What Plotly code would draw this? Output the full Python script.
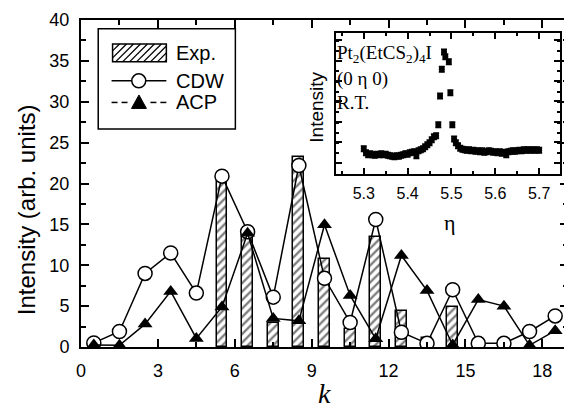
import plotly.graph_objects as go

# ---- main data ----
k_pts = [0.5, 1.5, 2.5, 3.5, 4.5, 5.5, 6.5, 7.5, 8.5, 9.5, 10.5, 11.5, 12.5, 13.5, 14.5, 15.5, 16.5, 17.5, 18.5]
cdw = [0.5, 1.9, 9.0, 11.5, 6.6, 20.9, 14.1, 6.1, 22.2, 8.4, 3.0, 15.6, 1.8, 0.45, 7.0, 0.45, 0.45, 1.9, 3.8]
acp = [0.25, 0.2, 2.8, 6.8, 1.05, 4.9, 13.9, 3.5, 3.2, 14.95, 6.3, 1.0, 11.2, 6.9, 0.25, 5.8, 5.0, 0.2, 2.0]
exp_k = [5.5, 6.5, 7.5, 8.5, 9.5, 10.5, 11.5, 12.5, 13.5, 14.5]
exp_v = [20.4, 13.7, 2.9, 23.2, 10.8, 2.2, 13.5, 4.4, 1.1, 4.85]
legend_labels = ["Exp.", "CDW", "ACP"]

# ---- inset data ----
eta = [5.300, 5.305, 5.310, 5.315, 5.320, 5.325, 5.330, 5.335, 5.340, 5.345,
       5.350, 5.355, 5.360, 5.365, 5.370, 5.375, 5.380, 5.385, 5.390, 5.395,
       5.400, 5.405, 5.410, 5.415, 5.420, 5.425, 5.430, 5.435, 5.440, 5.445,
       5.450, 5.455, 5.460, 5.465, 5.470, 5.474, 5.478, 5.483, 5.486, 5.494,
       5.4975, 5.502, 5.506, 5.510, 5.515, 5.520, 5.525, 5.530, 5.535, 5.540,
       5.545, 5.550, 5.555, 5.560, 5.565, 5.570, 5.575, 5.580, 5.585, 5.590,
       5.595, 5.600, 5.605, 5.610, 5.615, 5.620, 5.625, 5.630, 5.635, 5.640,
       5.645, 5.650, 5.655, 5.660, 5.665, 5.670, 5.675, 5.680, 5.685, 5.690,
       5.695, 5.700]
inten = [25, 21, 19, 20, 19, 18.5, 19.5, 19, 20, 19,
         19.5, 18.5, 18, 17.5, 17, 18, 17.5, 18.5, 19, 20,
         19.5, 21, 21.5, 22, 18, 23, 24, 25, 27, 29,
         31, 34, 37, 38, 49, 78, 104.7, 122, 117.3, 112.3,
         81.3, 49, 34.7, 31, 28, 25.5, 24.5, 24, 23.5, 24,
         23, 23.5, 22.5, 23, 22, 23, 21.5, 22, 23, 22.5,
         21.5, 22, 21, 22, 20.5, 21.5, 19, 22, 22.5, 23,
         22.5, 23, 23.5, 23, 24, 23.5, 24, 23.5, 24, 23.5,
         24, 23.5]
inten_err = [2.5] * len(inten)

FONT = "Liberation Sans"
SERIF = "Liberation Serif"

# figure sized to fit inside the page's default 8px body margin
OFF = 8
W, H = 564, 408
ML, MR, MT, MB = 73, 2, 11, 69
PW, PH = W - ML - MR, H - MT - MB


def px(x):
    # screen-pixel x -> paper fraction
    return (x - OFF - ML) / PW


def py(y):
    # screen-pixel y -> paper fraction
    return (H - MB - (y - OFF)) / PH


fig = go.Figure()

fig.add_trace(go.Bar(
    x=exp_k, y=exp_v, width=0.42, name=legend_labels[0], showlegend=False,
    marker=dict(color="white", line=dict(color="black", width=1.5),
                pattern=dict(shape="/", fgcolor="black", bgcolor="white", size=6, solidity=0.4)),
))
fig.add_trace(go.Scatter(
    x=k_pts, y=cdw, mode="lines+markers", name=legend_labels[1], showlegend=False,
    line=dict(color="black", width=1.5),
    marker=dict(symbol="circle", size=14, color="white", line=dict(color="black", width=1.5)),
))
fig.add_trace(go.Scatter(
    x=k_pts, y=acp, mode="lines+markers", name=legend_labels[2], showlegend=False,
    line=dict(color="black", width=1.5),
    marker=dict(symbol="triangle-up", size=13, color="black"),
))

# inset
fig.add_trace(go.Scatter(
    x=eta, y=inten, mode="markers", showlegend=False, xaxis="x2", yaxis="y2",
    marker=dict(symbol="circle", size=6, color="black"),
    error_y=dict(type="data", array=inten_err, thickness=2, width=3, color="black"),
))

# ---- hand-drawn legend (paper coordinates) ----
shapes = []
lw = dict(color="black", width=1.5)
shapes.append(dict(type="rect", xref="paper", yref="paper", x0=px(98.3), x1=px(236), y0=py(128.3), y1=py(27.7),
                   line=dict(color="black", width=1.5), fillcolor="white", layer="above"))
rx0, rx1, ry0, ry1 = 112.7, 166.7, 43, 61
shapes.append(dict(type="rect", xref="paper", yref="paper", x0=px(rx0), x1=px(rx1), y0=py(ry1), y1=py(ry0),
                   line=dict(color="black", width=1.5), fillcolor="white", layer="above"))
hh = ry1 - ry0
step = 7.0
start = rx0 - hh
while start < rx1:
    xa, ya, xb, yb = start, ry1, start + hh, ry0
    if xa < rx0:
        ya = ry1 - (rx0 - xa)
        xa = rx0
    if xb > rx1:
        yb = ry0 + (xb - rx1)
        xb = rx1
    if xb > xa:
        shapes.append(dict(type="line", xref="paper", yref="paper", x0=px(xa), y0=py(ya), x1=px(xb), y1=py(yb),
                           line=dict(color="black", width=1.3), layer="above"))
    start += step
shapes.append(dict(type="line", xref="paper", yref="paper", x0=px(111.7), x1=px(166.7), y0=py(80), y1=py(80),
                   line=lw, layer="above"))
shapes.append(dict(type="circle", xref="paper", yref="paper", x0=px(132), x1=px(146), y0=py(87), y1=py(73),
                   line=lw, fillcolor="white", layer="above"))
for xa, xb in [(111.7, 117.7), (121.7, 127.7), (150.7, 156.7), (160.7, 166.7)]:
    shapes.append(dict(type="line", xref="paper", yref="paper", x0=px(xa), x1=px(xb), y0=py(101.7), y1=py(101.7),
                       line=lw, layer="above"))
tx, ty = 139.2, 101.7
shapes.append(dict(type="path", xref="paper", yref="paper",
                   path=f"M {px(tx - 7.5)} {py(ty + 6)} L {px(tx + 7.5)} {py(ty + 6)} L {px(tx)} {py(ty - 7.5)} Z",
                   line=dict(color="black", width=1), fillcolor="black", layer="above"))

legend_ann = []
for lab, yy in zip(legend_labels, [51.7, 80, 101.7]):
    legend_ann.append(dict(text=lab, x=px(174), y=py(yy), xref="paper", yref="paper", showarrow=False,
                           font=dict(size=20, family=FONT), xanchor="left", yanchor="middle"))

axis_common = dict(showline=True, linecolor="black", linewidth=2, mirror="ticks",
                   ticks="inside", tickcolor="black", tickwidth=1.5, showgrid=False,
                   zeroline=False)

fig.update_layout(
    width=W, height=H,
    margin=dict(l=ML, r=MR, t=MT, b=MB),
    paper_bgcolor="white", plot_bgcolor="white",
    bargap=0, showlegend=False,
    font=dict(family=FONT, color="black"),
    xaxis=dict(range=[0, 19], tick0=0, dtick=3, ticklen=8,
               minor=dict(dtick=1.5, ticklen=5, tickcolor="black", ticks="inside", tickwidth=1.5),
               tickfont=dict(size=18, family=FONT), ticklabelstandoff=6, **axis_common),
    yaxis=dict(range=[0, 40], tick0=0, dtick=5, ticklen=8,
               minor=dict(dtick=2.5, ticklen=5, tickcolor="black", ticks="inside", tickwidth=1.5),
               tickfont=dict(size=18, family=FONT), ticklabelstandoff=6, **axis_common),
    xaxis2=dict(domain=[0.523, 0.984], anchor="y2", range=[5.236, 5.748], tick0=5.3, dtick=0.1,
                ticklen=6, minor=dict(dtick=0.05, ticklen=3, tickcolor="black", ticks="inside", tickwidth=1.5),
                tickfont=dict(size=16, family=FONT), ticklabelstandoff=4, **axis_common),
    yaxis2=dict(domain=[0.530, 0.959], anchor="x2", range=[0, 140.7], tick0=11, dtick=20.5,
                ticklen=6, minor=dict(dtick=10.25, ticklen=3, tickcolor="black", ticks="inside", tickwidth=1.5),
                showticklabels=False, **axis_common),
    shapes=shapes,
    annotations=legend_ann + [
        dict(text="<i>k</i>", x=0.501, y=py(394), xref="paper", yref="paper",
             showarrow=False, font=dict(size=28, family=SERIF), xanchor="center", yanchor="middle"),
        dict(text="Intensity (arb. units)", x=px(27), y=0.419, xref="paper", yref="paper",
             showarrow=False, textangle=-90, font=dict(size=24, family=FONT),
             xanchor="center", yanchor="middle"),
        dict(text="Intensity", x=px(318), y=0.732, xref="paper", yref="paper",
             showarrow=False, textangle=-90, font=dict(size=19, family=FONT),
             xanchor="center", yanchor="middle"),
        dict(text="η", x=px(452), y=py(222), xref="paper", yref="paper",
             showarrow=False, font=dict(size=22, family=SERIF), xanchor="center", yanchor="middle"),
        dict(text="Pt<sub>2</sub>(EtCS<sub>2</sub>)<sub>4</sub>I", x=px(336), y=py(53), xref="paper", yref="paper",
             showarrow=False, font=dict(size=19, family=SERIF), xanchor="left", yanchor="middle"),
        dict(text="(0 η 0)", x=px(336), y=py(78), xref="paper", yref="paper",
             showarrow=False, font=dict(size=19, family=SERIF), xanchor="left", yanchor="middle"),
        dict(text="R.T.", x=px(336), y=py(102), xref="paper", yref="paper",
             showarrow=False, font=dict(size=19, family=SERIF), xanchor="left", yanchor="middle"),
    ],
)

fig.write_html("out.html")
